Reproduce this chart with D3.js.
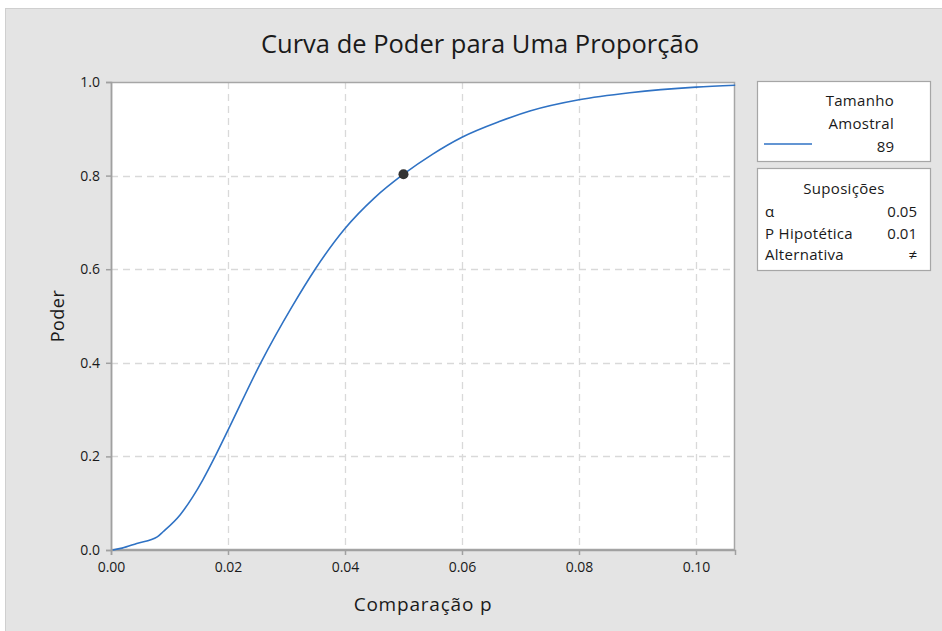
<!DOCTYPE html>
<html>
<head>
<meta charset="utf-8">
<script src="https://cdn.jsdelivr.net/npm/d3@7"></script>
<style>
  html, body { margin: 0; padding: 0; background: #ffffff; }
  svg { display: block; }
  text { font-family: "Open Sans", "Noto Sans", sans-serif; fill: #1a1a1a; }
</style>
</head>
<body>
<svg id="chart" width="942" height="631"></svg>
<script>
// Power curve for a one-proportion test (n = 89, p0 = 0.01, alpha = 0.05, two-sided)
const comparisonP = [0.0003, 0.0019, 0.0044, 0.0079, 0.0089, 0.0118, 0.0140, 0.0157, 0.0178,
  0.0200, 0.0256, 0.0309, 0.0349, 0.0400, 0.0450, 0.0500, 0.0550, 0.0600,
  0.0665, 0.0716, 0.0800, 0.0887, 0.1000, 0.1067];
const power = [0.000, 0.004, 0.014, 0.028, 0.039, 0.075, 0.114, 0.150, 0.200,
  0.256, 0.400, 0.519, 0.600, 0.687, 0.752, 0.803, 0.846, 0.882,
  0.916, 0.938, 0.962, 0.977, 0.989, 0.993];

// Design point: the sample size that reaches the target power
const targetP = [0.05];
const targetPower = [0.803];

const xTicks = [0.00, 0.02, 0.04, 0.06, 0.08, 0.10];
const yTicks = [0.0, 0.2, 0.4, 0.6, 0.8, 1.0];

const legendTitle = ["Tamanho", "Amostral"];
const sampleSizes = ["89"];
const assumptionLabels = ["α", "P Hipotética", "Alternativa"];
const assumptionValues = ["0.05", "0.01", "≠"];

const svg = d3.select("#chart");

// Outer panel
svg.append("rect").attr("x", 5.5).attr("y", 8.5).attr("width", 940).attr("height", 625)
  .attr("fill", "#e4e4e4").attr("stroke", "#cfcfcf");

const plot = { left: 111, top: 82, right: 735, bottom: 550 };

const x = d3.scaleLinear().domain([0, 0.10667]).range([plot.left, plot.right]);
const y = d3.scaleLinear().domain([0, 1]).range([plot.bottom, plot.top]);

// Data area
svg.append("rect")
  .attr("x", plot.left).attr("y", plot.top)
  .attr("width", plot.right - plot.left).attr("height", plot.bottom - plot.top)
  .attr("fill", "#ffffff");

// Dashed grid
const grid = svg.append("g").attr("stroke", "#d9d9d9").attr("stroke-dasharray", "7,5").attr("stroke-width", 1.3);
grid.selectAll("line.vx").data(xTicks.filter(d => d > 0)).join("line")
  .attr("x1", d => Math.round(x(d)) + 0.5).attr("x2", d => Math.round(x(d)) + 0.5)
  .attr("y1", plot.top).attr("y2", plot.bottom);
grid.selectAll("line.hy").data(yTicks.filter(d => d > 0 && d < 1)).join("line")
  .attr("y1", d => Math.round(y(d)) + 0.5).attr("y2", d => Math.round(y(d)) + 0.5)
  .attr("x1", plot.left).attr("x2", plot.right);

// Frame
svg.append("rect")
  .attr("x", plot.left + 0.5).attr("y", plot.top + 0.5)
  .attr("width", plot.right - plot.left - 1).attr("height", plot.bottom - plot.top - 1)
  .attr("fill", "none").attr("stroke", "#a6a6a6").attr("stroke-width", 1.5);

// Axes
const xAxis = d3.axisBottom(x).tickValues(xTicks).tickFormat(d3.format(".2f")).tickSize(5).tickPadding(7);
const yAxis = d3.axisLeft(y).tickValues(yTicks).tickFormat(d3.format(".1f")).tickSize(5).tickPadding(6);

const gx = svg.append("g").attr("transform", `translate(0,${plot.bottom})`).call(xAxis);
const gy = svg.append("g").attr("transform", `translate(${plot.left},0)`).call(yAxis);
[gx, gy].forEach(g => {
  g.select(".domain").attr("stroke", "#a0a0a0").attr("stroke-width", 1.5);
  g.selectAll(".tick line").attr("stroke", "#a0a0a0").attr("stroke-width", 1.5);
  g.selectAll(".tick text").attr("fill", "#1a1a1a")
    .style("font-family", '"Open Sans", sans-serif').style("font-size", "14px");
});

// Power curve
const line = d3.line()
  .x((d, i) => x(comparisonP[i]))
  .y(d => y(d))
  .curve(d3.curveMonotoneX);
svg.append("path").datum(power)
  .attr("d", line)
  .attr("fill", "none").attr("stroke", "#2f72c4").attr("stroke-width", 1.6);

svg.selectAll("circle.target").data(targetP).join("circle")
  .attr("class", "target")
  .attr("cx", d => x(d)).attr("cy", (d, i) => y(targetPower[i]))
  .attr("r", 5).attr("fill", "#333333");

// Titles
svg.append("text").attr("x", 480).attr("y", 53).attr("text-anchor", "middle")
  .style("font-size", "25.5px").text("Curva de Poder para Uma Proporção");
svg.append("text").attr("x", (plot.left + plot.right) / 2).attr("y", 611).attr("text-anchor", "middle")
  .style("font-size", "19px").style("letter-spacing", "0.8px").text("Comparação p");
svg.append("text").attr("transform", `translate(64,${(plot.top + plot.bottom) / 2}) rotate(-90)`)
  .attr("text-anchor", "middle").style("font-size", "18px").style("letter-spacing", "0.5px").text("Poder");

// Legend: sample size
const lg = svg.append("g");
lg.append("rect").attr("x", 757.5).attr("y", 81.5).attr("width", 173).attr("height", 80)
  .attr("fill", "#ffffff").attr("stroke", "#a6a6a6").attr("stroke-width", 1.2);
legendTitle.forEach((t, i) => {
  lg.append("text").attr("x", 894).attr("y", 106 + i * 23).attr("text-anchor", "end")
    .style("font-size", "15px").style("letter-spacing", "0.3px").text(t);
});
sampleSizes.forEach((s, i) => {
  lg.append("line").attr("x1", 764).attr("x2", 812).attr("y1", 144 + i * 23).attr("y2", 144 + i * 23)
    .attr("stroke", "#2f72c4").attr("stroke-width", 1.6);
  lg.append("text").attr("x", 894).attr("y", 152 + i * 23).attr("text-anchor", "end")
    .style("font-size", "15px").text(s);
});

// Legend: assumptions
const ag = svg.append("g");
ag.append("rect").attr("x", 757.5).attr("y", 168.5).attr("width", 173).attr("height", 102)
  .attr("fill", "#ffffff").attr("stroke", "#a6a6a6").attr("stroke-width", 1.2);
ag.append("text").attr("x", 844).attr("y", 194).attr("text-anchor", "middle")
  .style("font-size", "15px").style("letter-spacing", "0.3px").text("Suposições");
assumptionLabels.forEach((t, i) => {
  ag.append("text").attr("x", 765).attr("y", 217 + i * 21.5).style("font-size", "15px")
    .style("letter-spacing", "0.3px").text(t);
  ag.append("text").attr("x", 917).attr("y", 217 + i * 21.5).attr("text-anchor", "end")
    .style("font-size", "15px").text(assumptionValues[i]);
});
</script>
</body>
</html>
